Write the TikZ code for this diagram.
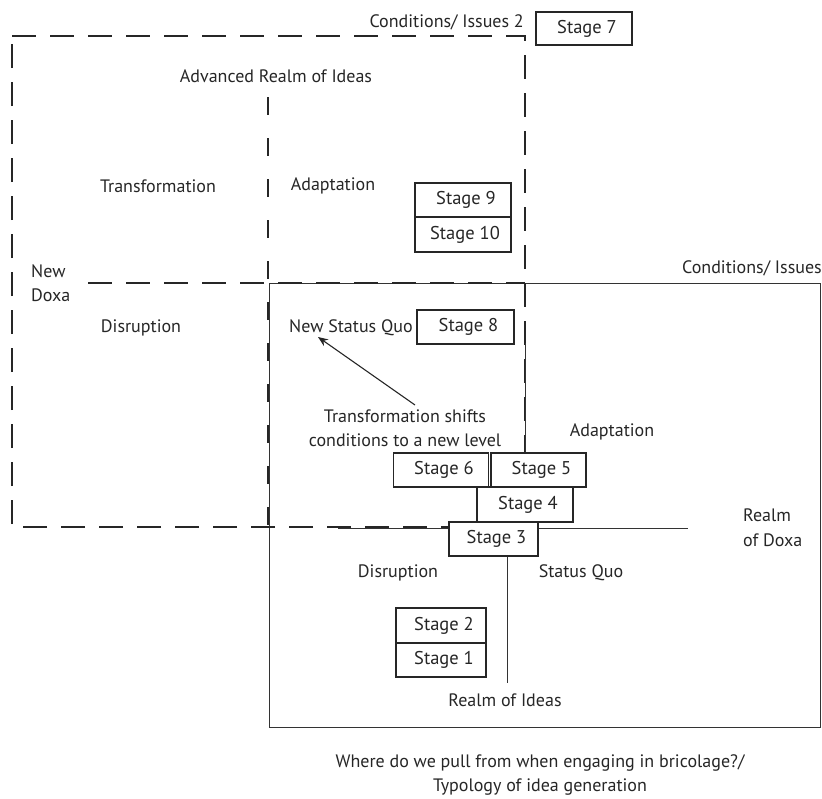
\documentclass[tikz,border=0pt]{standalone}
\usepackage{fontspec}
\setmainfont{PT Sans}
\usetikzlibrary{arrows.meta}
\begin{document}
\begin{tikzpicture}[x=1pt,y=-1pt,
  lbl/.style={font=\fontsize{18}{24}\selectfont, text=black!85, inner sep=0pt, align=center},
  stagebox/.style={draw=black!85, line width=1.1pt, fill=white, inner sep=0pt,
    font=\fontsize{18.5}{22}\selectfont, text=black!85},
  bigdash/.style={line width=2.6pt, draw=black!85, dash pattern=on 24pt off 14pt},
  thin/.style={line width=0.9pt, draw=black!80}]
\useasboundingbox (0,0) rectangle (822,798);

% solid outer rectangle
\draw[thin] (269,283) rectangle (820,727);
% dashed big rectangle
\draw[bigdash] (12,36) -- (525,36) -- (525,527) -- (12,527) -- cycle;
% inner dashed lines
\draw[bigdash, dash pattern=on 18pt off 23pt] (268,97) -- (268,527);
\draw[bigdash] (88,283) -- (525,283);

% stage boxes
\node[stagebox, minimum width=96pt, minimum height=33pt] (s7) at (584,28.5) {\hspace*{6pt}Stage 7};
\node[stagebox, minimum width=96pt, minimum height=34pt] (s9) at (463,200) {\hspace*{6pt}Stage 9};
\node[stagebox, minimum width=96pt, minimum height=35pt] (s10) at (463,234.5) {\hspace*{4pt}Stage 10};
\node[stagebox, minimum width=97pt, minimum height=34pt] (s8) at (465.5,327) {\hspace*{6pt}Stage 8};
\node[stagebox, minimum width=95pt, minimum height=34pt] (s6) at (441,470) {\hspace*{6pt}Stage 6};
\node[stagebox, minimum width=95pt, minimum height=34pt] (s5) at (538.5,470) {\hspace*{6pt}Stage 5};
\node[stagebox, minimum width=96pt, minimum height=35pt] (s4) at (525,504.5) {\hspace*{6pt}Stage 4};
\node[stagebox, minimum width=89pt, minimum height=34pt] (s3) at (493.5,539) {\hspace*{6pt}Stage 3};
\node[stagebox, minimum width=90pt, minimum height=35pt] (s2) at (441,625.5) {\hspace*{6pt}Stage 2};
\node[stagebox, minimum width=90pt, minimum height=34pt] (s1) at (441,660) {\hspace*{6pt}Stage 1};

% axes
\coordinate (axL) at (338,528);
\coordinate (axR) at (688,528);
\coordinate (axB) at (507,683);
\coordinate (axT) at (525,343);
\draw[thin] (axL) -- (s3.west |- axL);
\draw[thin] (s3.east |- axR) -- (axR);
\draw[thin] (s3.south -| axB) -- (axB);
\draw[thin] (axT) -- (axT |- s5.north);

% labels
\node[lbl, anchor=east] (c2) at (524,22) {Conditions/ Issues 2};
\node[lbl] (ari) at (276,76) {Advanced Realm of Ideas};
\node[lbl] (tr) at (158,186) {Transformation};
\node[lbl] (ad1) at (333,186) {Adaptation};
\node[lbl, align=left, anchor=west] (nd) at (31,283) {New\\Doxa};
\node[lbl, anchor=east] (ci) at (822,268) {Conditions/ Issues};
\node[lbl] (dis1) at (141,328) {Disruption};
\node[lbl] (nsq) at (351,328) {New Status Quo};
\node[lbl] (tsh) at (405,428) {Transformation shifts\\conditions to a new level};
\node[lbl] (ad2) at (612,432) {Adaptation};
\node[lbl, align=left, anchor=west, font=\fontsize{18}{25}\selectfont] (rd) at (743,528) {Realm\\of Doxa};
\node[lbl] (dis2) at (398,573) {Disruption};
\node[lbl] (sq) at (581,573) {Status Quo};
\node[lbl] (ri) at (505,700) {Realm of Ideas};
\node[lbl] (cap) at (540,775) {Where do we pull from when engaging in bricolage?/\\Typology of idea generation};

% arrow
\coordinate (atail) at (415,405);
\draw[line width=1.1pt, draw=black!85, -{Stealth[length=10pt,width=8pt]}] (atail) -- (318,337);
\end{tikzpicture}
\end{document}
